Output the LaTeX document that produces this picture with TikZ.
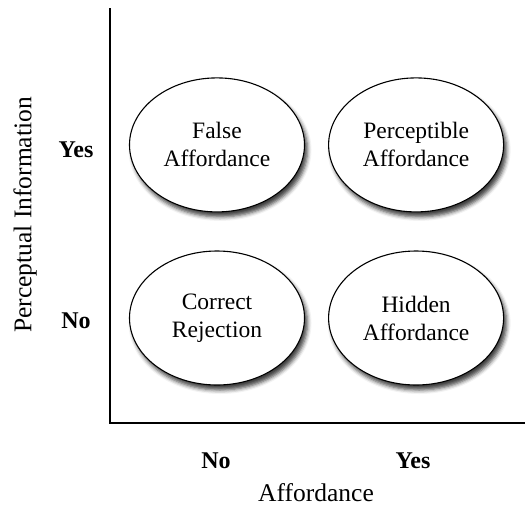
\documentclass[tikz,border=0pt]{standalone}
\usepackage{fontspec}
\setmainfont{Liberation Serif}
\usetikzlibrary{positioning, shapes.geometric, shadows.blur}

\begin{document}
\begin{tikzpicture}[x=1pt, y=-1pt,
        quad/.style={ellipse, draw, line width=1.1pt, fill=white,
            minimum width=175pt, minimum height=134pt, inner sep=0pt,
            align=center, font=\fontsize{23.5}{28}\selectfont,
            blur shadow={shadow xshift=3pt, shadow yshift=-5pt,
                shadow blur radius=4pt, shadow opacity=75}},
        level/.style={font=\fontsize{24}{28}\selectfont\bfseries},
        axistitle/.style={font=\fontsize{25.5}{30}\selectfont}]
        \useasboundingbox (0,0) rectangle (526,506);
        % axes
        \coordinate (o) at (110,423);
        \coordinate (ytop) at (110,8);
        \coordinate (xend) at (525,423);
        \draw[line width=1.3pt] (ytop) -- (o) -- (xend);
        % quadrants
        \node[quad] (cr) at (217,318) {Correct\\Rejection};
        \node[quad, right = 23pt of cr] (ha) {Hidden\\Affordance};
        \node[quad, above = 38pt of cr] (fa) {False\\Affordance};
        \node[quad, above = 38pt of ha] (pa) {Perceptible\\Affordance};
        % levels
        \node[level] (yesy) at (76,150) {Yes};
        \node[level] (noy) at (76,321) {No};
        \node[level] (nox) at (216,461) {No};
        \node[level] (yesx) at (413,461) {Yes};
        % titles
        \node[axistitle, rotate=90] (ytitle) at (25,215) {Perceptual Information};
        \node[axistitle] (xtitle) at (316,493) {Affordance};
\end{tikzpicture}
\end{document}
